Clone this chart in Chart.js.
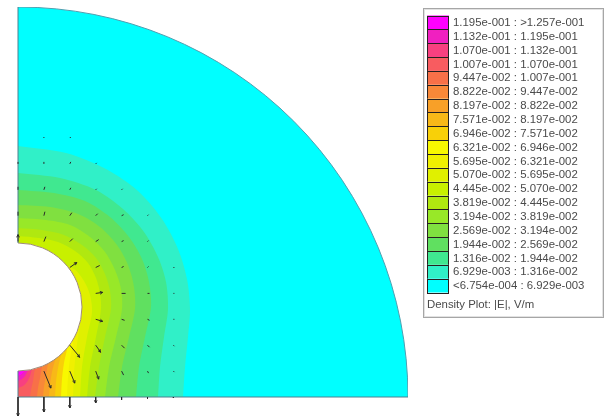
<!DOCTYPE html>
<html>
<head>
<meta charset="utf-8">
<script src="https://cdn.jsdelivr.net/npm/chart.js@4.4.0/dist/chart.umd.min.js"></script>
<style>
  html, body { margin: 0; padding: 0; background: #fff; }
  canvas { display: block; }
</style>
</head>
<body>
<canvas id="plot" width="605" height="418"></canvas>
<script>
// legend rows, top to bottom
var legendLabels = [
    '1.195e-001 : >1.257e-001', '1.132e-001 : 1.195e-001', '1.070e-001 : 1.132e-001',
    '1.007e-001 : 1.070e-001', '9.447e-002 : 1.007e-001', '8.822e-002 : 9.447e-002',
    '8.197e-002 : 8.822e-002', '7.571e-002 : 8.197e-002', '6.946e-002 : 7.571e-002',
    '6.321e-002 : 6.946e-002', '5.695e-002 : 6.321e-002', '5.070e-002 : 5.695e-002',
    '4.445e-002 : 5.070e-002', '3.819e-002 : 4.445e-002', '3.194e-002 : 3.819e-002',
    '2.569e-002 : 3.194e-002', '1.944e-002 : 2.569e-002', '1.316e-002 : 1.944e-002',
    '6.929e-003 : 1.316e-002', '<6.754e-004 : 6.929e-003'
];
var legendTitle = 'Density Plot: |E|, V/m';

// band colours, lowest band first
var bandColors = [
    '#00ffff', '#30f0c8', '#40e890', '#60e060', '#80e040', '#98e828', '#b0e810',
    '#c8f000', '#e0f000', '#f0f000', '#f8f800', '#f8d008', '#f8b818', '#f8a028',
    '#f88838', '#f87048', '#f85c60', '#f84080', '#f020c0', '#ff00ff'
];

// geometry (model units, origin at the lower left corner)
var outerRadius = 390;
var hole = { x: 0, y: 90, r: 64 };

// contour lines between bands [x, y]
var c1 = [[165, 0], [167, 30], [170, 60], [172, 88], [169, 118], [160, 148], [144, 178], [120, 206], [88, 228], [48, 244], [0, 251]];
var c2 = [[140, 0], [142, 30], [146, 60], [150, 88], [148, 115], [140, 140], [126, 165], [105, 188], [78, 207], [42, 219], [0, 224]];
var c3 = [[118, 0], [121, 30], [127, 60], [133, 90], [131, 115], [124, 138], [111, 160], [92, 180], [67, 196], [36, 204], [0, 207]];
var c4 = [[100, 0], [104, 30], [111, 60], [117, 88], [116, 110], [110, 132], [99, 152], [82, 170], [60, 183], [32, 190], [0, 192]];
var c5 = [[87, 0], [91, 30], [98, 60], [104, 88], [103, 108], [97, 127], [87, 145], [72, 160], [52, 172], [28, 177], [0, 179]];
var c6 = [[77, 0], [81, 30], [87, 60], [93, 88], [92, 106], [87, 123], [78, 139], [64, 152], [46, 162], [24, 167], [0, 169]];
var c7 = [[69, 0], [72, 30], [78, 60], [83, 88], [82, 104], [78, 119], [70, 134], [57, 146], [40, 155], [21, 159], [0, 161]];
var c8 = [[62, 0], [64, 30], [69, 60], [74, 85], [72, 102], [66, 116], [56, 128], [38, 134], [0, 138]];
var c9 = [[55, 0], [56, 25], [58, 45], [60, 60], [62, 75], [58, 90], [0, 100]];
var c10 = [[49, 0], [50, 20], [52, 38], [55, 55], [56, 65], [0, 85]];
var c11 = [[43, 0], [44, 18], [46, 34], [49, 48], [50, 58], [0, 80]];
var c12 = [[37, 0], [38, 15], [40, 29], [43, 42], [45, 52], [0, 75]];
var c13 = [[31, 0], [32, 12], [34, 25], [37, 37], [39, 46], [0, 70]];
var c14 = [[25, 0], [26, 10], [28, 21], [30, 33], [33, 42], [0, 65]];
var c15 = [[19, 0], [20, 9], [22, 19], [24, 30], [27, 38], [0, 60]];
var c16 = [[12, 0], [13, 7], [15, 16], [17, 28], [20, 34], [0, 55]];
var c17 = [[0, 9], [5, 11], [9, 15], [12, 21], [14, 28], [18, 36], [0, 50]];
var c18 = [[0, 16], [4, 18], [7, 21], [9, 25], [11, 29], [0, 45]];
var c19 = [[0, 21], [3, 22.5], [5, 24.5], [7, 27], [0, 40]];
var contours = [c1, c2, c3, c4, c5, c6, c7, c8, c9, c10, c11, c12, c13, c14, c15, c16, c17, c18, c19];

// field arrows: grid column, grid row, dx, dy
var gridStep = 25.9;
var arrows = [
    [0, 0, 0, -19], [1, 0, 0, -15], [2, 0, 0, -11], [3, 0, 0, -6], [4, 0, 0, -3], [5, 0, 0, -2], [6, 0, 0, -1],
    [1, 1, 7, -17], [2, 1, 5, -12], [3, 1, 3, -8], [4, 1, 2, -4], [5, 1, 1, -2], [6, 1, 1, -1],
    [2, 2, 10, -12], [3, 2, 5, -7], [4, 2, 3, -3], [5, 2, 2, -2], [6, 2, 1, -1],
    [3, 3, 7, -2], [4, 3, 3, -1], [5, 3, 2, -1], [6, 3, 1, 0],
    [3, 4, 7, 1], [4, 4, 4, 0], [5, 4, 2, 0], [6, 4, 1, 0],
    [2, 5, 7, 5], [3, 5, 4, 2], [4, 5, 2, 1], [5, 5, 1, 1], [6, 5, 1, 0],
    [0, 6, 0, 7], [1, 6, 2, 5], [2, 6, 3, 3], [3, 6, 3, 2], [4, 6, 2, 1], [5, 6, 1, 1],
    [0, 7, 0, 4], [1, 7, 1, 4], [2, 7, 2, 3], [3, 7, 2, 2], [4, 7, 2, 1], [5, 7, 1, 1],
    [0, 8, 0, 3], [1, 8, 1, 3], [2, 8, 1, 2], [3, 8, 1, 1], [4, 8, 1, 1],
    [0, 9, 0, 2], [1, 9, 0, 2], [2, 9, 1, 2], [3, 9, 1, 1],
    [1, 10, 0, 1], [2, 10, 1, 1]
];

function toPoints(list) {
    return list.map(function (p) { return { x: p[0], y: p[1] }; });
}

var datasets = [];

// whole domain, lowest band
datasets.push({
    type: 'bubble',
    data: [{ x: 0, y: 0, r: outerRadius }],
    backgroundColor: bandColors[0],
    borderColor: '#4f9fb0',
    borderWidth: 1,
    clip: 0,
    order: 100
});

contours.forEach(function (c, k) {
    datasets.push({
        type: 'line',
        indexAxis: 'y',
        data: toPoints(c),
        fill: 'origin',
        backgroundColor: bandColors[k + 1],
        borderWidth: 0,
        pointRadius: 0,
        tension: 0.3,
        order: 99 - k
    });
});

// the conductor hole
datasets.push({
    type: 'bubble',
    data: [{ x: hole.x, y: hole.y, r: hole.r }],
    backgroundColor: '#ffffff',
    borderColor: '#a08c78',
    borderWidth: 1,
    clip: 0,
    order: 10
});

// straight edges
datasets.push({
    type: 'line',
    data: [
        { x: 0, y: 0 }, { x: 0, y: hole.y - hole.r }, { x: 0, y: null },
        { x: 0, y: hole.y + hole.r }, { x: 0, y: outerRadius }, { x: 0, y: null },
        { x: 0, y: 0 }, { x: outerRadius, y: 0 }
    ],
    borderColor: '#4f8090',
    borderWidth: 1,
    pointRadius: 0,
    fill: false,
    clip: false,
    order: 5
});

// arrows as short segments with small heads
var arrowPts = [];
arrows.forEach(function (a) {
    var x0 = a[0] * gridStep, y0 = a[1] * gridStep;
    var x1 = x0 + a[2], y1 = y0 + a[3];
    var len = Math.sqrt(a[2] * a[2] + a[3] * a[3]);
    arrowPts.push({ x: x0, y: y0 }, { x: x1, y: y1 }, { x: x1, y: null });
    if (len >= 6) {
        var ux = a[2] / len, uy = a[3] / len, h = 3;
        arrowPts.push({ x: x1 - h * (ux * 0.9 - uy * 0.45), y: y1 - h * (uy * 0.9 + ux * 0.45) },
            { x: x1, y: y1 },
            { x: x1 - h * (ux * 0.9 + uy * 0.45), y: y1 - h * (uy * 0.9 - ux * 0.45) },
            { x: x1, y: null });
    }
});
datasets.push({
    type: 'line',
    data: arrowPts,
    borderColor: '#2a2a2a',
    borderWidth: 1,
    pointRadius: 0,
    fill: false,
    clip: false,
    order: 1
});

var legendBox = {
    id: 'legendBox',
    afterDraw: function (chart) {
        var ctx = chart.ctx;
        var left = 423, top = 8, w = 181, h = 310;
        var rowH = 13.85, sw = 22, sx = 427, sy = 15.5;
        ctx.save();
        ctx.fillStyle = '#ffffff';
        ctx.fillRect(left, top, w, h);
        ctx.strokeStyle = '#a6a6a6';
        ctx.lineWidth = 1;
        ctx.strokeRect(left + 0.5, top + 0.5, w - 1, h - 1);
        ctx.strokeStyle = '#e2e2e2';
        ctx.strokeRect(left + 1.5, top + 1.5, w - 3, h - 3);
        ctx.font = '11.4px "Liberation Sans", Arial, sans-serif';
        ctx.textBaseline = 'middle';
        legendLabels.forEach(function (label, i) {
            var y = sy + i * rowH;
            ctx.fillStyle = bandColors[bandColors.length - 1 - i];
            ctx.fillRect(sx, y, sw, rowH);
            ctx.strokeStyle = '#262020';
            ctx.strokeRect(sx + 0.5, Math.round(y) + 0.5, sw - 1, Math.round(rowH));
            ctx.fillStyle = '#4a4a4a';
            ctx.fillText(label, 453, y + rowH / 2 + 0.5);
        });
        ctx.fillText(legendTitle, 427, 305);
        ctx.restore();
    }
};

new Chart(document.getElementById('plot'), {
    type: 'line',
    data: { datasets: datasets },
    options: {
        responsive: false,
        animation: false,
        events: [],
        layout: { autoPadding: false, padding: { left: 18, top: 7, right: 197, bottom: 21 } },
        scales: {
            x: { type: 'linear', min: 0, max: outerRadius, display: false },
            y: { type: 'linear', min: 0, max: outerRadius, display: false }
        },
        plugins: {
            legend: { display: false },
            tooltip: { enabled: false }
        }
    },
    plugins: [legendBox]
});
</script>
</body>
</html>
